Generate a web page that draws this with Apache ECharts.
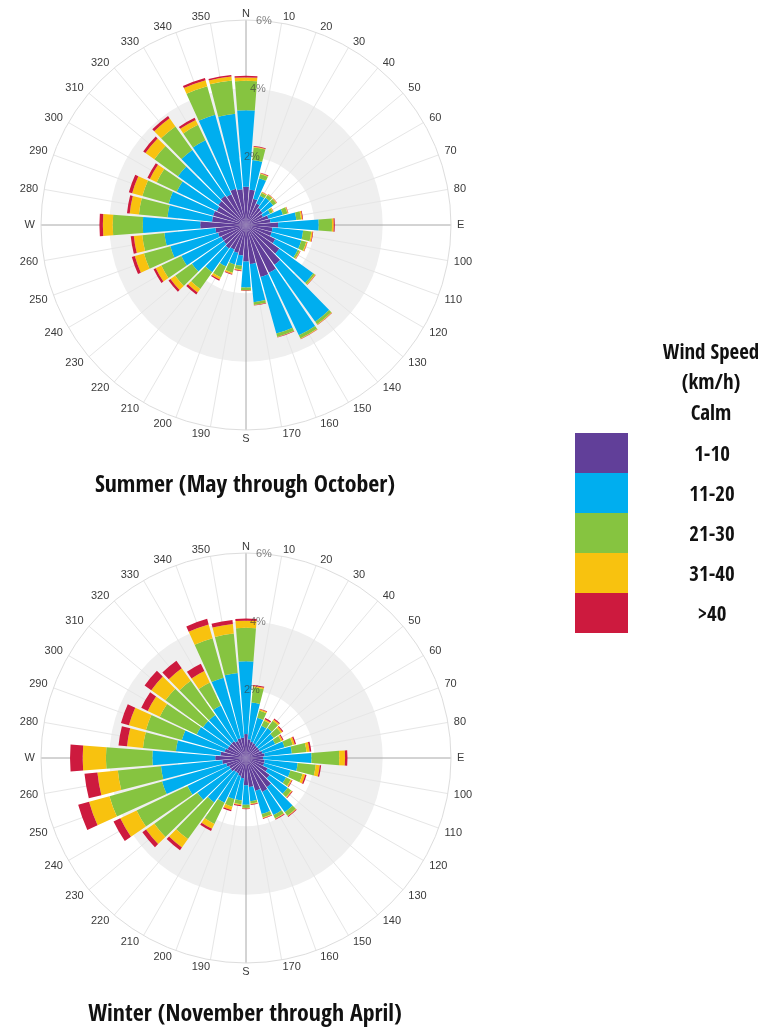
<!DOCTYPE html>
<html><head><meta charset="utf-8">
<script src="https://cdn.jsdelivr.net/npm/echarts@6/dist/echarts.min.js"></script>
<style>html,body{margin:0;padding:0;background:#fff}#c{width:777px;height:1031px}</style>
</head><body><div id="c"></div>
<script>
const directions = [0,10,20,30,40,50,60,70,80,90,100,110,120,130,140,150,160,170,180,190,200,210,220,230,240,250,260,270,280,290,300,310,320,330,340,350];
const dirLabels = ['N','10','20','30','40','50','60','70','80','E','100','110','120','130','140','150','160','170','S','190','200','210','220','230','240','250','260','W','280','290','300','310','320','330','340','350'];
const radialTicks = [0,2,4,6];
const speedNames = ['1-10','11-20','21-30','31-40','>40'];
const speedColors = ['#613f99','#00aeef','#86c440','#f8c20f','#cd1a3e'];

// Summer (May through October), % frequency per direction, per speed class
const summer1to10  = [1.12,1.04,0.80,0.70,0.62,0.60,0.55,0.68,0.72,0.94,0.78,0.78,0.95,1.20,1.43,1.55,1.58,1.15,1.07,0.90,0.85,0.80,0.85,0.80,0.80,0.85,0.90,1.34,1.00,1.00,0.95,1.00,1.05,1.00,1.10,1.05];
const summer11to20 = [2.24,0.87,0.62,0.25,0.36,0.38,0.23,0.44,0.76,1.19,0.90,0.90,0.73,1.22,2.05,2.03,1.72,1.12,0.76,0.30,0.35,0.55,0.85,1.15,1.30,1.45,1.50,1.68,1.31,1.35,1.30,1.45,1.65,1.75,2.25,2.22];
const summer21to30 = [0.86,0.37,0.13,0.10,0.11,0.11,0.09,0.14,0.14,0.39,0.24,0.15,0.06,0.06,0.09,0.10,0.10,0.08,0.08,0.11,0.25,0.35,0.60,0.60,0.65,0.80,0.65,0.88,0.84,0.80,0.65,0.85,0.85,0.50,0.87,0.98];
const summer31to40 = [0.10,0.02,0.02,0.02,0.02,0.02,0.02,0.02,0.04,0.05,0.04,0.03,0.02,0.02,0.02,0.02,0.01,0.01,0.01,0.03,0.04,0.07,0.13,0.17,0.18,0.28,0.25,0.29,0.27,0.31,0.22,0.32,0.29,0.16,0.18,0.12];
const summerOver40 = [0.05,0.02,0.02,0.01,0.01,0.01,0.01,0.01,0.02,0.03,0.02,0.01,0.01,0.01,0.01,0.01,0.01,0.01,0.01,0.02,0.02,0.04,0.07,0.07,0.07,0.09,0.09,0.10,0.08,0.10,0.08,0.08,0.08,0.07,0.07,0.04];

// Winter (November through April)
const winter1to10  = [0.70,0.55,0.50,0.48,0.45,0.45,0.45,0.50,0.55,0.50,0.55,0.55,0.70,0.85,1.05,1.10,1.00,0.85,0.80,0.60,0.55,0.50,0.50,0.55,0.55,0.60,0.70,0.90,0.75,0.65,0.60,0.60,0.60,0.55,0.60,0.60];
const winter11to20 = [2.13,1.08,0.72,0.57,0.63,0.55,0.50,0.67,0.80,1.42,0.97,0.80,0.60,0.65,0.90,0.75,0.70,0.42,0.57,0.65,0.70,0.95,1.10,1.20,1.35,1.95,1.80,1.84,1.31,1.30,1.00,0.95,0.95,1.15,1.84,1.90];
const winter21to30 = [0.98,0.45,0.22,0.17,0.26,0.26,0.19,0.25,0.43,0.81,0.53,0.37,0.15,0.13,0.13,0.11,0.11,0.07,0.09,0.11,0.23,0.69,1.32,1.55,1.65,1.60,1.27,1.36,0.97,1.09,1.20,1.35,1.23,0.75,1.20,1.16];
const winter31to40 = [0.21,0.04,0.04,0.04,0.05,0.05,0.05,0.06,0.09,0.17,0.12,0.08,0.04,0.03,0.02,0.02,0.02,0.02,0.02,0.03,0.10,0.16,0.30,0.30,0.53,0.62,0.60,0.68,0.47,0.52,0.39,0.51,0.45,0.37,0.42,0.28];
const winterOver40 = [0.06,0.03,0.02,0.04,0.03,0.03,0.03,0.04,0.05,0.07,0.04,0.04,0.02,0.02,0.02,0.02,0.02,0.02,0.02,0.03,0.04,0.07,0.10,0.13,0.22,0.33,0.38,0.37,0.25,0.24,0.21,0.24,0.27,0.24,0.17,0.12];

const summerData = [summer1to10, summer11to20, summer21to30, summer31to40, summerOver40];
const winterData = [winter1to10, winter11to20, winter21to30, winter31to40, winterOver40];

// ---- pick a condensed bold face if one is installed (runtime font check) ----
function pickFont() {
  const ctx = document.createElement('canvas').getContext('2d');
  const sample = 'Summer (May through October)';
  const cands = [
    ['normal', "'Open Sans Condensed'"], ['normal', "'Noto Sans Condensed'"],
    ['normal', "'DejaVu Sans Condensed'"], ['normal', "'Liberation Sans Narrow'"],
    ['normal', "'Roboto Condensed'"], ['condensed', "'Open Sans'"],
    ['condensed', "'Noto Sans'"], ['condensed', "'DejaVu Sans'"]
  ];
  ctx.font = "bold 24px 'Open Sans'";
  const base = ctx.measureText(sample).width;
  for (const [st, fam] of cands) {
    ctx.font = '10px monospace';
    ctx.font = st + ' bold 24px ' + fam + ', monospace';
    if (ctx.font.indexOf('10px') === 0) continue;
    const w1 = ctx.measureText(sample).width;
    ctx.font = st + ' bold 24px ' + fam + ', serif';
    const w2 = ctx.measureText(sample).width;
    if (Math.abs(w1 - w2) < 0.5 && w1 < 0.88 * base) return { style: st, family: fam + ', sans-serif', scale: 300 / w1 };
  }
  return { style: 'normal', family: "'Open Sans', sans-serif", scale: 300 / base };
}
const F = pickFont();
const titleSize = Math.round(24 * F.scale * 10) / 10;
const legendSize = Math.round(21 * F.scale * 10) / 10;
const PLAIN = "'Liberation Sans', Arial, sans-serif";
const centers = [[246, 225], [246, 758]];
const R = 205;
const spokeColors = ['#a8a8a8','#e6e6e6','#e6e6e6','#e6e6e6','#e6e6e6','#e6e6e6','#e6e6e6','#e6e6e6','#e6e6e6'];
const lblBase = { color: '#3a3a3a', fontSize: 11, fontFamily: PLAIN, lineHeight: 6 };

const polar = [], angleAxis = [], radiusAxis = [], series = [];
centers.forEach((c, i) => {
  const barIdx = i * 3, gridIdx = i * 3 + 1, pctIdx = i * 3 + 2;
  polar.push({ center: c, radius: R }, { center: c, radius: R }, { center: c, radius: R });
  // polar for the bars: one category band per direction, N band centred on top
  angleAxis.push({
    polarIndex: barIdx, type: 'category', data: directions, startAngle: 95, clockwise: true,
    boundaryGap: true, axisLine: { show: false }, axisTick: { show: false },
    axisLabel: { show: false }, splitLine: { show: false }, z: 0
  });
  radiusAxis.push({
    polarIndex: barIdx, min: 0, max: 6, interval: 2,
    axisLine: { show: false }, axisTick: { show: false }, axisLabel: { show: false },
    splitLine: { show: false },
    splitArea: { show: true, areaStyle: { color: ['rgba(255,255,255,0)', '#efefef', 'rgba(255,255,255,0)'] } },
    z: 0
  });
  // polar for the compass grid and direction labels
  angleAxis.push({
    polarIndex: gridIdx, type: 'value', min: 0, max: 360, interval: 10, startAngle: 90, clockwise: true,
    axisLine: { show: true, lineStyle: { color: '#dddddd', width: 1 } },
    axisTick: { show: false },
    axisLabel: {
      show: true, margin: 3, color: '#3a3a3a', fontSize: 11, fontFamily: PLAIN,
      formatter: v => {
        const k = Math.round(v / 10) % 36;
        const t = dirLabels[k];
        const low = k >= 10 && k <= 26;
        if (k === 1) return '{l|' + t + '}';
        if (k === 17) return '{l2|' + t + '}';
        if (k === 19) return '{r2|' + t + '}';
        if (k === 35) return '{r|' + t + '}';
        if (k === 18) return '{s|' + t + '}';
        return (low ? '{b|' : '{n|') + t + '}';
      },
      rich: {
        n: Object.assign({ padding: [0, 3, 0, 3] }, lblBase),
        b: Object.assign({ padding: [2, 3, 0, 3] }, lblBase),
        s: Object.assign({ padding: [6, 0, 0, 0] }, lblBase),
        l: Object.assign({ padding: [0, 0, 0, 14] }, lblBase),
        l2: Object.assign({ padding: [2, 0, 0, 19] }, lblBase),
        r: Object.assign({ padding: [0, 18, 0, 0] }, lblBase),
        r2: Object.assign({ padding: [2, 18, 0, 0] }, lblBase)
      }
    },
    splitLine: { show: true, lineStyle: { color: spokeColors, width: 1 } },
    z: 1
  });
  radiusAxis.push({
    polarIndex: gridIdx, min: 0, max: 6, interval: 2,
    axisLine: { show: false }, axisTick: { show: false }, axisLabel: { show: false },
    splitLine: { show: false }, splitArea: { show: false }, z: 1
  });
  // polar for the percentage labels, laid along the gap east of north
  angleAxis.push({
    polarIndex: pctIdx, type: 'value', min: 0, max: 360, startAngle: 85, clockwise: true,
    axisLine: { show: false }, axisTick: { show: false }, axisLabel: { show: false }, splitLine: { show: false }, z: 5
  });
  radiusAxis.push({
    polarIndex: pctIdx, min: 0, max: 6, interval: 2,
    axisLine: { show: false }, axisTick: { show: false },
    axisLabel: { show: true, align: 'center', verticalAlign: 'middle', margin: 0, color: 'rgba(60,60,60,0.65)', fontSize: 11, fontFamily: PLAIN,
      formatter: v => (radialTicks.indexOf(v) > 0 ? v + '%' : '') },
    splitLine: { show: false }, splitArea: { show: false },
    z: 5
  });
  const dataSet = i === 0 ? summerData : winterData;
  speedNames.forEach((name, k) => {
    series.push({
      type: 'bar', name: name, coordinateSystem: 'polar', polarIndex: barIdx,
      stack: 'stack' + i, data: dataSet[k], barCategoryGap: '12%',
      itemStyle: { color: speedColors[k] }, silent: true
    });
  });
});

const titleStyle = { fontFamily: F.family, fontStyle: F.style, fontWeight: 'bold', fontSize: titleSize, lineHeight: 24, color: '#111' };
const chart = echarts.init(document.getElementById('c'), null, { renderer: 'canvas' });
chart.setOption({
  animation: false,
  backgroundColor: '#ffffff',
  title: [
    { text: 'Summer (May through October)', left: 245, top: 474, textAlign: 'center', padding: 0, textStyle: titleStyle },
    { text: 'Winter (November through April)', left: 245, top: 1003, textAlign: 'center', padding: 0, textStyle: titleStyle },
    { text: 'Wind Speed\n(km/h)\nCalm', left: 711, top: 338, textAlign: 'center', padding: 0,
      textStyle: { fontFamily: F.family, fontStyle: F.style, fontWeight: 'bold', fontSize: legendSize, lineHeight: 30.5, color: '#111' } }
  ],
  legend: {
    orient: 'vertical', left: 575, top: 433, padding: 0, itemGap: 0,
    itemWidth: 53, itemHeight: 40, icon: 'rect', selectedMode: false,
    data: speedNames,
    formatter: name => '{a|' + name + '}',
    textStyle: { rich: { a: { width: 158, align: 'center', padding: [6, 0, 0, 0], fontFamily: F.family, fontStyle: F.style, fontWeight: 'bold', fontSize: legendSize, color: '#111' } } }
  },
  polar: polar,
  angleAxis: angleAxis,
  radiusAxis: radiusAxis,
  series: series
});
</script></body></html>
